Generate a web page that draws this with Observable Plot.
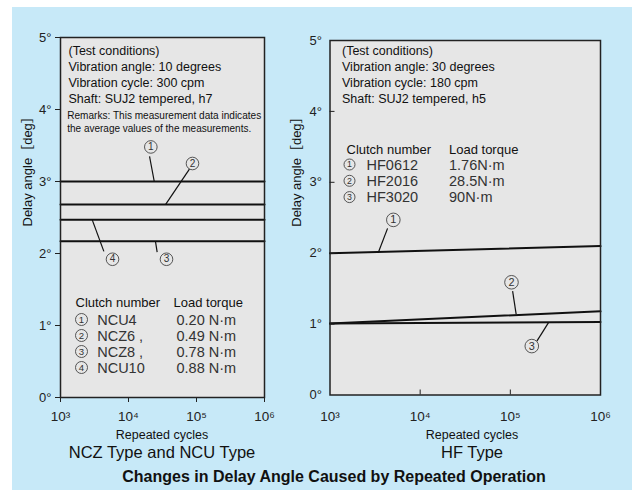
<!DOCTYPE html>
<html><head><meta charset="utf-8">
<script src="https://cdn.jsdelivr.net/npm/d3@7"></script>
<script src="https://cdn.jsdelivr.net/npm/@observablehq/plot@0.6"></script>
<style>
body{margin:0;background:#fff;}
#page{position:relative;width:632px;height:490px;overflow:hidden;font-family:"Liberation Sans",Arial,sans-serif;}
#bg{position:absolute;left:12px;top:7px;right:0;bottom:0;background:#c7e9f8;}
.panel{position:absolute;left:0;top:0;}
.cap{position:absolute;transform:translate(-50%,-50%);white-space:nowrap;color:#111;line-height:1;}
</style></head><body>
<div id="page"><div id="bg"></div>
<div id="left" class="panel"></div><div id="right" class="panel"></div>
<div class="cap" style="left:162px;top:435px;font-size:12.5px">Repeated cycles</div>
<div class="cap" style="left:472px;top:435px;font-size:12.5px">Repeated cycles</div>
<div class="cap" style="left:162px;top:452px;font-size:16.5px">NCZ Type and NCU Type</div>
<div class="cap" style="left:472px;top:452px;font-size:16.5px">HF Type</div>
<div class="cap" style="left:334px;top:477px;font-size:16px;font-weight:bold">Changes in Delay Angle Caused by Repeated Operation</div>
</div>
<script>
const FONT = '"Liberation Sans", Arial, "DejaVu Sans", "Noto Sans CJK JP", sans-serif';

// shared axes
const cyclesDomain = [1e3, 1e6];
const delayDomain = [0, 5];
const xTicks = [1e3, 1e4, 1e5, 1e6];
const xTickLabels = ["10³", "10⁴", "10⁵", "10⁶"];
const yTicks = [0, 1, 2, 3, 4, 5];
const yTitle = "Delay angle［deg］";

// NCZ / NCU panel (circled numbers 1-4)
const nczMarks = ["1", "2", "3", "4"];
const nczClutch = ["NCU4", "NCZ6 ,", "NCZ8 ,", "NCU10"];
const nczTorque = ["0.20 N·m", "0.49 N·m", "0.78 N·m", "0.88 N·m"];
const nczDelayStart = [3.0, 2.68, 2.17, 2.47];
const nczDelayEnd = [3.0, 2.68, 2.17, 2.47];
const nczLabelX = [21300, 87300, 36200, 5820];
const nczLabelY = [3.48, 3.25, 1.92, 1.92];
const nczLeadX1 = [23900, 35000, 24900, 2920];
const nczLeadY1 = [3.0, 2.68, 2.17, 2.47];
const nczLeadX2 = [20400, 79600, 26400, 4340];
const nczLeadY2 = [3.35, 3.18, 2.02, 2.03];
const nczConditions = ["(Test conditions)", "Vibration angle: 10 degrees", "Vibration cycle: 300 cpm", "Shaft: SUJ2 tempered, h7"];
const nczRemarks = ["Remarks: This measurement data indicates", "the average values of the measurements."];

// HF panel (circled numbers 1-3)
const hfMarks = ["1", "2", "3"];
const hfClutch = ["HF0612", "HF2016", "HF3020"];
const hfTorque = ["1.76N·m", "28.5N·m", "90N·m"];
const hfDelayStart = [2.0, 1.01, 1.01];
const hfDelayEnd = [2.1, 1.18, 1.03];
const hfLabelX = [5040, 103000, 173000];
const hfLabelY = [2.47, 1.59, 0.69];
const hfLeadX1 = [3460, 116000, 265000];
const hfLeadY1 = [2.02, 1.14, 1.02];
const hfLeadX2 = [4350, 106000, 197000];
const hfLeadY2 = [2.35, 1.465, 0.76];
const hfConditions = ["(Test conditions)", "Vibration angle: 30 degrees", "Vibration cycle: 180 cpm", "Shaft: SUJ2 tempered, h5"];

const legendHeader1 = "Clutch number";
const legendHeader2 = "Load torque";

function series(start, end) {
  return start.flatMap((s, i) => [
    {id: i, cycles: cyclesDomain[0], delay: s},
    {id: i, cycles: cyclesDomain[1], delay: end[i]}
  ]);
}
const tickFmt = d => xTickLabels[xTicks.indexOf(d)] ?? "";

function panel(cfg) {
  const idx = d3.range(cfg.marks.length);
  const inside = cfg.inside;
  const rowText = (lines, dx) => Plot.text([lines.join("\n")], {frameAnchor: "top-left", text: d => d, dx, dy: cfg.rowDy, lineAnchor: "middle", lineHeight: cfg.rowLH / 14.5, fontSize: 14.5, fill: "#333"});
  const m = [
    Plot.frame({fill: "#e6e6e6"}),
    Plot.line(series(cfg.start, cfg.end), {x: "cycles", y: "delay", z: "id", stroke: "#111", strokeWidth: 2}),
    Plot.link(idx, {x1: i => cfg.leadX1[i], y1: i => cfg.leadY1[i], x2: i => cfg.leadX2[i], y2: i => cfg.leadY2[i], stroke: "#111", strokeWidth: 1.2}),
    Plot.dot(idx, {x: i => cfg.labelX[i], y: i => cfg.labelY[i], r: cfg.labelR, stroke: "#444", strokeWidth: 0.9, fill: "#e6e6e6"}),
    Plot.text(idx, {x: i => cfg.labelX[i], y: i => cfg.labelY[i], text: i => cfg.marks[i], fontSize: cfg.labelR * 1.6, fill: "#333"}),
    Plot.text([cfg.conditions.join("\n")], {frameAnchor: "top-left", text: d => d, dx: cfg.condDx, dy: cfg.condDy, lineAnchor: "middle", lineHeight: 1.28, fontSize: 12.5, fill: "#111"}),
    Plot.text([legendHeader1], {frameAnchor: "top-left", text: d => d, dx: cfg.headDx1, dy: cfg.headDy, lineAnchor: "middle", fontSize: 13, fill: "#111"}),
    Plot.text([legendHeader2], {frameAnchor: "top-left", text: d => d, dx: cfg.headDx2, dy: cfg.headDy, lineAnchor: "middle", fontSize: 13, fill: "#111"}),
    rowText(cfg.clutch, cfg.rowDx1),
    rowText(cfg.torque, cfg.rowDx2),
    Plot.text([yTitle], {frameAnchor: "left", text: d => d, rotate: -90, dx: cfg.titleDx, dy: 9, fontSize: 13, fill: "#111"}),
    Plot.frame({stroke: "#222", strokeWidth: 1.5})
  ];
  // circled numbers of the legend rows
  const firstRow = cfg.rowDy - (idx.length - 1) / 2 * cfg.rowLH;
  idx.forEach(i => {
    m.push(Plot.dot([i], {frameAnchor: "top-left", dx: cfg.legCx, dy: firstRow + i * cfg.rowLH, r: cfg.legR, stroke: "#444", strokeWidth: 0.9, fill: "none"}));
    m.push(Plot.text([i], {frameAnchor: "top-left", text: j => cfg.marks[j], dx: cfg.legCx, dy: firstRow + i * cfg.rowLH, textAnchor: "middle", lineAnchor: "middle", fontSize: cfg.legR * 1.6, fill: "#333"}));
  });
  if (cfg.remarks) {
    cfg.remarks.forEach((r, k) => {
      m.push(Plot.text([r], {frameAnchor: "top-left", text: d => d, dx: 6.7, dy: 77.4 + k * 13, lineAnchor: "middle", fontSize: 11.4, fill: "#111"}));
    });
  }
  if (!inside) {
    m.push(Plot.axisX(xTicks, {tickFormat: tickFmt, tickSize: 5, tickPadding: 9, fontSize: 13.5, label: null}));
    m.push(Plot.axisY(yTicks, {tickFormat: d => d + "°", tickSize: 5, tickPadding: 4, fontSize: 13, label: null}));
  } else {
    m.push(Plot.axisX(xTicks, {tickFormat: tickFmt, tickSize: 0, tickPadding: 16, fontSize: 13.5, label: null}));
    m.push(Plot.axisX([1e4, 1e5], {tickFormat: () => "", tickSize: 5, dy: -5, label: null}));
    m.push(Plot.axisY(yTicks, {tickFormat: d => d + "°", tickSize: 0, tickPadding: 8, fontSize: 13, label: null}));
    m.push(Plot.axisY([1, 2, 3, 4], {tickFormat: () => "", tickSize: 5, dx: 5, label: null}));
  }
  const svg = Plot.plot({
    width: cfg.width, height: 430,
    marginLeft: cfg.ml, marginRight: cfg.mr, marginTop: cfg.mt, marginBottom: cfg.mb,
    x: {type: "log", domain: cyclesDomain, label: null},
    y: {domain: delayDomain, label: null},
    style: {background: "transparent", fontFamily: FONT, color: "#222", overflow: "visible"},
    marks: m
  });
  // drop empty tick texts of the tick-only axes
  d3.select(svg).selectAll("text").filter(function () { return this.textContent === ""; }).remove();
  if (cfg.remarks) {
    const lens = [194, 184];
    d3.select(svg).selectAll("text").each(function () {
      const k = cfg.remarks.indexOf(this.textContent);
      if (k >= 0) d3.select(this).attr("textLength", lens[k]).attr("lengthAdjust", "spacingAndGlyphs");
    });
  }
  return svg;
}

document.getElementById("left").appendChild(panel({
  width: 316, ml: 60, mr: 52, mt: 37, mb: 33, inside: false,
  marks: nczMarks, clutch: nczClutch, torque: nczTorque, start: nczDelayStart, end: nczDelayEnd,
  labelX: nczLabelX, labelY: nczLabelY, leadX1: nczLeadX1, leadY1: nczLeadY1, leadX2: nczLeadX2, leadY2: nczLeadY2,
  labelR: 6.3,
  conditions: nczConditions, remarks: nczRemarks, condDx: 8, condDy: 36,
  headDx1: 15, headDx2: 113, headDy: 265.7, legCx: 21, legR: 6, rowDx1: 36.7, rowDx2: 116, rowDy: 306, rowLH: 16,
  titleDx: -33
}));
document.getElementById("right").appendChild(panel({
  width: 632, ml: 329.5, mr: 32, mt: 40, mb: 35.5, inside: true,
  marks: hfMarks, clutch: hfClutch, torque: hfTorque, start: hfDelayStart, end: hfDelayEnd,
  labelX: hfLabelX, labelY: hfLabelY, leadX1: hfLeadX1, leadY1: hfLeadY1, leadX2: hfLeadX2, leadY2: hfLeadY2,
  labelR: 6.8,
  conditions: hfConditions, remarks: null, condDx: 12, condDy: 33.3,
  headDx1: 16.5, headDx2: 119, headDy: 109.3, legCx: 19.5, legR: 5.5, rowDx1: 36.5, rowDx2: 119, rowDy: 140.3, rowLH: 16.3,
  titleDx: -33.5
}));
</script>
</body></html>
